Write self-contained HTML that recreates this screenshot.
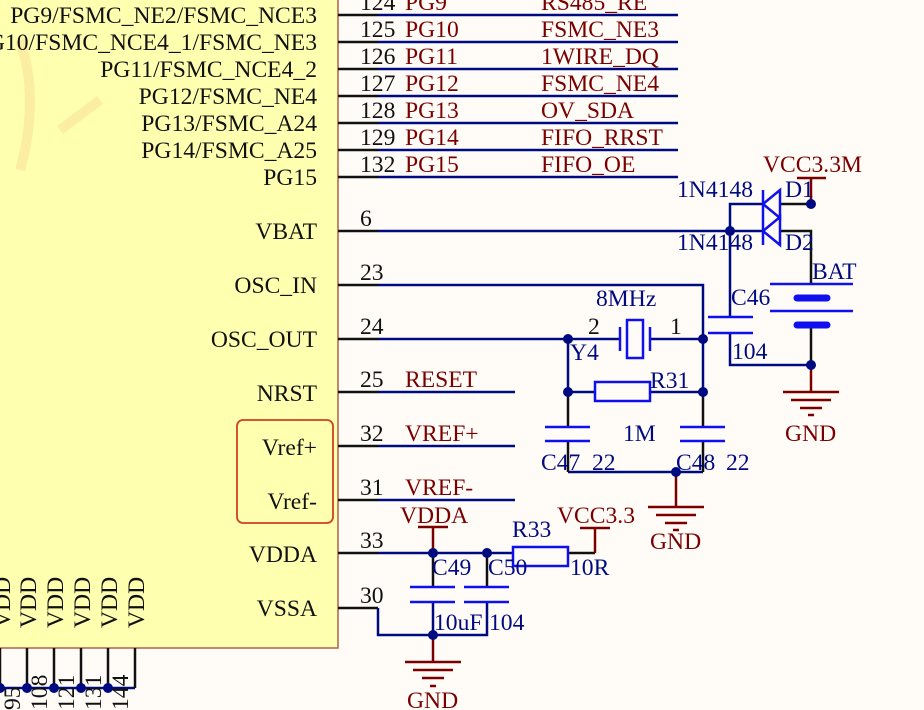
<!DOCTYPE html>
<html><head><meta charset="utf-8"><style>
html,body{margin:0;padding:0;background:#fffcf7;}
svg{display:block;}
text{font-family:"Liberation Serif",serif;font-size:23.6px;}
.k{fill:#111;}
.r{fill:#7a0000;}
.b{fill:#000a80;}
</style></head><body>
<svg width="924" height="710" viewBox="0 0 924 710" xmlns="http://www.w3.org/2000/svg">
<rect x="-2" y="-2" width="340" height="650" fill="#ffffb0" stroke="#b0604a" stroke-width="1.5"/>
<g fill="none" stroke="#f5d08a" stroke-width="10" opacity="0.35">
<path d="M20 170 Q40 100 20 40"/><path d="M60 130 L100 100"/>
</g>
<g stroke-width="2.5" fill="none">
<g stroke="#000a80">
<line x1="378" y1="15" x2="678" y2="15"/><line x1="378" y1="42" x2="678" y2="42"/>
<line x1="378" y1="69" x2="678" y2="69"/><line x1="378" y1="96" x2="678" y2="96"/>
<line x1="378" y1="123" x2="678" y2="123"/><line x1="378" y1="150" x2="678" y2="150"/>
<line x1="378" y1="177" x2="678" y2="177"/>
<line x1="378" y1="231" x2="763" y2="231"/>
<polyline points="378,285 703,285 703,339"/>
<polyline points="568,339 568,392"/>
<polyline points="703,339 703,392"/>
<line x1="568" y1="472" x2="703" y2="472"/>
<line x1="378" y1="339" x2="620" y2="339"/>
<line x1="650" y1="339" x2="703" y2="339"/>
<line x1="568" y1="392" x2="595" y2="392"/><line x1="650" y1="392" x2="703" y2="392"/>
<line x1="378" y1="392" x2="515" y2="392"/><line x1="378" y1="446" x2="515" y2="446"/>
<line x1="378" y1="500" x2="515" y2="500"/>
<polyline points="730,317 730,204 763,204"/>
<polyline points="730,333 730,365 811,365"/>
<line x1="378" y1="553" x2="513" y2="553"/>
<polyline points="378,608 378,635 487,635 487,602"/>
<line x1="433" y1="602" x2="433" y2="635"/>
<line x1="0" y1="688" x2="135" y2="688"/>
</g>
<g stroke="#111">
<line x1="338" y1="15" x2="378" y2="15"/><line x1="338" y1="42" x2="378" y2="42"/>
<line x1="338" y1="69" x2="378" y2="69"/><line x1="338" y1="96" x2="378" y2="96"/>
<line x1="338" y1="123" x2="378" y2="123"/><line x1="338" y1="150" x2="378" y2="150"/>
<line x1="338" y1="177" x2="378" y2="177"/><line x1="338" y1="231" x2="378" y2="231"/>
<line x1="338" y1="285" x2="378" y2="285"/><line x1="338" y1="339" x2="378" y2="339"/>
<line x1="338" y1="392" x2="378" y2="392"/><line x1="338" y1="446" x2="378" y2="446"/>
<line x1="338" y1="500" x2="378" y2="500"/><line x1="338" y1="553" x2="378" y2="553"/>
<line x1="338" y1="608" x2="378" y2="608"/>
<line x1="568" y1="392" x2="568" y2="427"/><line x1="703" y1="392" x2="703" y2="427"/>
<line x1="568" y1="441" x2="568" y2="472"/><line x1="703" y1="441" x2="703" y2="472"/>
<line x1="780" y1="204" x2="811" y2="204"/>
<polyline points="780,231 811,231 811,284"/>
<line x1="811" y1="325" x2="811" y2="365"/>
<line x1="433" y1="553" x2="433" y2="587"/><line x1="487" y1="553" x2="487" y2="587"/>
<line x1="568" y1="553" x2="595" y2="553"/>
<line x1="0" y1="648" x2="0" y2="688"/><line x1="27" y1="648" x2="27" y2="688"/>
<line x1="54" y1="648" x2="54" y2="688"/><line x1="81" y1="648" x2="81" y2="688"/>
<line x1="108" y1="648" x2="108" y2="688"/><line x1="135" y1="648" x2="135" y2="688"/>
</g>
<g stroke="#7a0000">
<line x1="676" y1="472" x2="676" y2="507"/>
<line x1="648" y1="507" x2="704" y2="507"/><line x1="656" y1="515" x2="696" y2="515"/><line x1="665" y1="523" x2="687" y2="523"/><line x1="673" y1="530" x2="679" y2="530"/>
<line x1="811" y1="365" x2="811" y2="392"/>
<line x1="783" y1="392" x2="839" y2="392"/><line x1="791" y1="400" x2="831" y2="400"/><line x1="800" y1="408" x2="822" y2="408"/><line x1="808" y1="415" x2="814" y2="415"/>
<line x1="811" y1="178" x2="811" y2="204"/><line x1="797" y1="178" x2="826" y2="178"/>
<line x1="433" y1="527" x2="433" y2="553"/><line x1="418" y1="527" x2="448" y2="527"/>
<line x1="595" y1="528" x2="595" y2="553"/><line x1="580" y1="528" x2="610" y2="528"/>
<line x1="433" y1="635" x2="433" y2="662"/>
<line x1="405" y1="662" x2="461" y2="662"/><line x1="413" y1="670" x2="453" y2="670"/><line x1="422" y1="678" x2="444" y2="678"/><line x1="430" y1="686" x2="436" y2="686"/>
</g>
<g stroke="#1010ee" fill="none">
<line x1="620" y1="327" x2="620" y2="351"/><line x1="650" y1="327" x2="650" y2="351"/>
<rect x="627" y="320" width="16" height="38"/>
<rect x="595" y="382" width="55" height="19"/>
<line x1="545" y1="427" x2="590" y2="427"/><line x1="545" y1="441" x2="590" y2="441"/>
<line x1="680" y1="427" x2="725" y2="427"/><line x1="680" y1="441" x2="725" y2="441"/>
<line x1="708" y1="317" x2="753" y2="317"/><line x1="708" y1="333" x2="753" y2="333"/>
<line x1="763" y1="190" x2="763" y2="245"/>
<polyline points="763,204 780,190 780,218 763,204"/>
<polyline points="763,231 780,217 780,245 763,231"/>
<line x1="770" y1="284" x2="853" y2="284"/><line x1="770" y1="311" x2="853" y2="311"/>
<line x1="797" y1="298" x2="827" y2="298" stroke-width="7" stroke-linecap="round"/>
<line x1="797" y1="325" x2="827" y2="325" stroke-width="7" stroke-linecap="round"/>
<rect x="513" y="547" width="55" height="19"/>
<line x1="410" y1="587" x2="455" y2="587"/><line x1="410" y1="602" x2="455" y2="602"/>
<line x1="464" y1="587" x2="509" y2="587"/><line x1="464" y1="602" x2="509" y2="602"/>
</g>
</g>
<rect x="237" y="420" width="96" height="103" rx="6" fill="none" stroke="#d04020" stroke-width="1.8"/>
<g fill="#000a80">
<circle cx="568" cy="339" r="5"/><circle cx="703" cy="339" r="5"/>
<circle cx="568" cy="392" r="5"/><circle cx="703" cy="392" r="5"/>
<circle cx="676" cy="472" r="5"/><circle cx="730" cy="231" r="5"/>
<circle cx="811" cy="204" r="5"/><circle cx="811" cy="365" r="5"/>
<circle cx="433" cy="553" r="5"/><circle cx="487" cy="553" r="5"/><circle cx="433" cy="635" r="5"/>
<circle cx="0" cy="688" r="5"/><circle cx="27" cy="688" r="5"/><circle cx="54" cy="688" r="5"/><circle cx="81" cy="688" r="5"/><circle cx="108" cy="688" r="5"/>
</g>
<g class="k" text-anchor="end">
<text x="317" y="23">PG9/FSMC_NE2/FSMC_NCE3</text>
<text x="317" y="50">PG10/FSMC_NCE4_1/FSMC_NE3</text>
<text x="317" y="77">PG11/FSMC_NCE4_2</text>
<text x="317" y="104">PG12/FSMC_NE4</text>
<text x="317" y="131">PG13/FSMC_A24</text>
<text x="317" y="158">PG14/FSMC_A25</text>
<text x="317" y="185">PG15</text>
<text x="317" y="239">VBAT</text>
<text x="317" y="293">OSC_IN</text>
<text x="317" y="347">OSC_OUT</text>
<text x="317" y="401">NRST</text>
<text x="317" y="455">Vref+</text>
<text x="317" y="509">Vref-</text>
<text x="317" y="562">VDDA</text>
<text x="317" y="616">VSSA</text>
</g>
<g class="k">
<text x="360" y="10">124</text><text x="360" y="37">125</text><text x="360" y="64">126</text>
<text x="360" y="91">127</text><text x="360" y="118">128</text><text x="360" y="145">129</text>
<text x="360" y="172">132</text>
<text x="360" y="226">6</text><text x="360" y="280">23</text><text x="360" y="334">24</text>
<text x="360" y="387">25</text><text x="360" y="441">32</text><text x="360" y="495">31</text>
<text x="360" y="548">33</text><text x="360" y="603">30</text>
<text x="588" y="334">2</text><text x="670" y="334">1</text>
</g>
<g class="k" font-size="22">
<text transform="translate(10,628) rotate(-90)">VDD</text>
<text transform="translate(36,628) rotate(-90)">VDD</text>
<text transform="translate(63,628) rotate(-90)">VDD</text>
<text transform="translate(90,628) rotate(-90)">VDD</text>
<text transform="translate(117,628) rotate(-90)">VDD</text>
<text transform="translate(144,628) rotate(-90)">VDD</text>
<text transform="translate(20,710) rotate(-90)">95</text>
<text transform="translate(47,710) rotate(-90)">108</text>
<text transform="translate(74,710) rotate(-90)">121</text>
<text transform="translate(101,710) rotate(-90)">131</text>
<text transform="translate(128,710) rotate(-90)">144</text>
</g>
<g class="r">
<text x="405" y="10">PG9</text><text x="541" y="10">RS485_RE</text>
<text x="405" y="37">PG10</text><text x="541" y="37">FSMC_NE3</text>
<text x="405" y="64">PG11</text><text x="541" y="64">1WIRE_DQ</text>
<text x="405" y="91">PG12</text><text x="541" y="91">FSMC_NE4</text>
<text x="405" y="118">PG13</text><text x="541" y="118">OV_SDA</text>
<text x="405" y="145">PG14</text><text x="541" y="145">FIFO_RRST</text>
<text x="405" y="172">PG15</text><text x="541" y="172">FIFO_OE</text>
<text x="405" y="387">RESET</text><text x="405" y="441">VREF+</text><text x="405" y="495">VREF-</text>
<text x="763" y="172">VCC3.3M</text>
<text x="785" y="441">GND</text><text x="650" y="549">GND</text>
<text x="400" y="523">VDDA</text><text x="557" y="523">VCC3.3</text>
<text x="407" y="708">GND</text>
</g>
<g class="b">
<text x="677" y="197">1N4148</text><text x="785" y="197">D1</text>
<text x="677" y="250">1N4148</text><text x="785" y="250">D2</text>
<text x="812" y="279">BAT</text>
<text x="731" y="305">C46</text><text x="732" y="359">104</text>
<text x="596" y="306">8MHz</text><text x="570" y="360">Y4</text>
<text x="650" y="388">R31</text><text x="623" y="441">1M</text>
<text x="541" y="470">C47</text><text x="592" y="470">22</text>
<text x="676" y="470">C48</text><text x="726" y="470">22</text>
<text x="512" y="537">R33</text><text x="570" y="575">10R</text>
<text x="432" y="575">C49</text><text x="488" y="575">C50</text>
<text x="434" y="630">10uF</text><text x="489" y="630">104</text>
</g>
</svg>
</body></html>
